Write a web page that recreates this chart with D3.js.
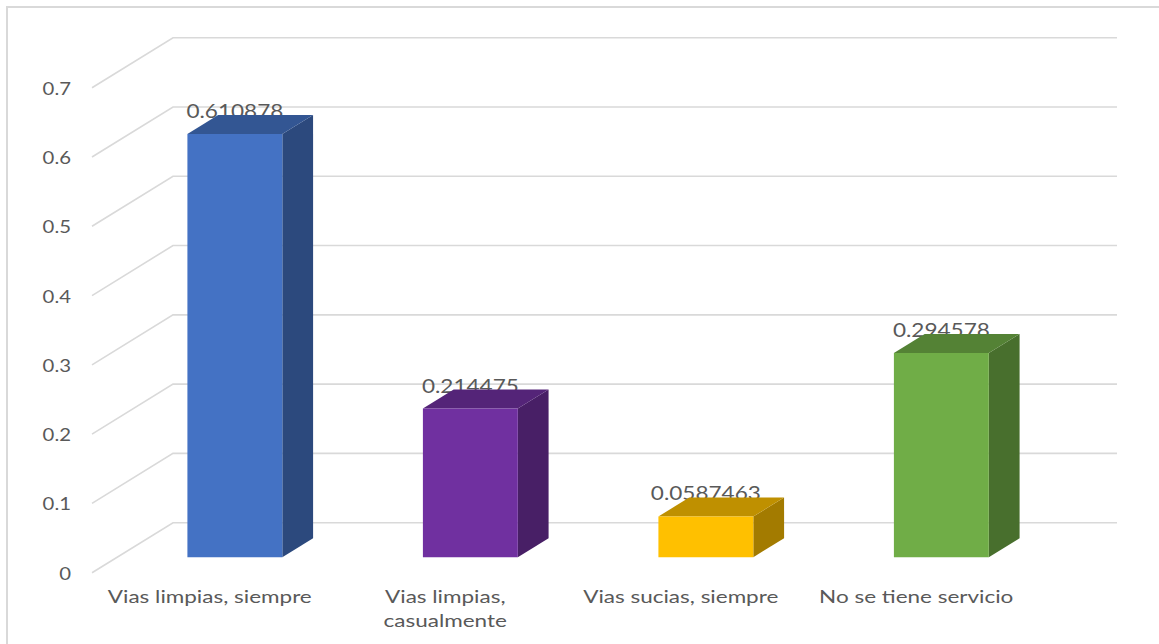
<!DOCTYPE html>
<html>
<head>
<meta charset="utf-8">
<script src="https://cdn.jsdelivr.net/npm/d3@7"></script>
<style>
  html, body { margin: 0; padding: 0; background: #ffffff; }
  svg { display: block; }
  text { font-family: Lato, "Open Sans", sans-serif; fill: #595959; }
</style>
</head>
<body>
<svg id="chart" width="1159" height="644"></svg>
<script>
// Categories and their values
const categories = [
  "Vias limpias, siempre",
  "Vias limpias, casualmente",
  "Vias sucias, siempre",
  "No se tiene servicio"
];
const values = [0.610878, 0.214475, 0.0587463, 0.294578];
const valueLabels = ["0.610878", "0.214475", "0.0587463", "0.294578"];
const tickValues = [0, 0.1, 0.2, 0.3, 0.4, 0.5, 0.6, 0.7];
const tickLabels = ["0", "0.1", "0.2", "0.3", "0.4", "0.5", "0.6", "0.7"];

// Fill colours of the front face of each column
const palette = ["#4472C4", "#7030A0", "#FFC000", "#70AD47"];

const svg = d3.select("#chart");
const W = 1159, H = 644;

// Pseudo-3D layout: front plane origin and depth vector
const origin = { x: 92, y: 572.7 };
const depth = { x: 81, y: -50 };
const plotWidth = 942;

const x = d3.scaleBand()
  .domain(categories)
  .range([0, plotWidth])
  .paddingInner(0.597)
  .paddingOuter(0.2985);

const y = d3.scaleLinear().domain([0, 0.7]).range([0, 485]);

// Project (horizontal position, value, depth fraction) to screen coordinates
function P(px, v, z) {
  return [origin.x + px + z * depth.x, origin.y - y(v) + z * depth.y];
}

const gridColor = "#D9D9D9";
const tickScale = 1.13;
const categoryScale = 1.25;
const valueScale = 1.22;

// Chart area border (left and top)
svg.append("path")
  .attr("d", `M7,${H} L7,7 L${W},7`)
  .attr("fill", "none")
  .attr("stroke", gridColor)
  .attr("stroke-width", 2);

// Side wall diagonals and back wall gridlines
const grid = svg.append("g");
tickValues.forEach(t => {
  const a = P(0, t, 0), b = P(0, t, 1), c = P(plotWidth + 2, t, 1);
  grid.append("path")
    .attr("d", `M${a[0]},${a[1]} L${b[0]},${b[1]} L${c[0]},${c[1]}`)
    .attr("fill", "none")
    .attr("stroke", gridColor)
    .attr("stroke-width", 1.6);
});

// Value axis labels
const yAxis = svg.append("g");
tickValues.forEach((t, i) => {
  const a = P(0, t, 0);
  yAxis.append("text")
    .attr("transform", `translate(${a[0] - 21},${a[1] + 7}) scale(${tickScale},1)`)
    .attr("text-anchor", "end")
    .attr("font-size", 18)
    .text(tickLabels[i]);
});

const z0 = 0.31, z1 = 0.69;

// Data labels are drawn first so the column tops sit over them
const labels = svg.append("g");
categories.forEach((c, i) => {
  const cx = x(c) + x.bandwidth() / 2;
  const back = P(cx, values[i], z1);
  const front = P(cx, values[i], z0);
  labels.append("text")
    .attr("transform", `translate(${front[0]},${back[1] + 3}) scale(${valueScale},1)`)
    .attr("text-anchor", "middle")
    .attr("font-size", 18.5)
    .text(valueLabels[i]);
});

// Columns: front, side and top faces
const bars = svg.append("g");
const poly = pts => "M" + pts.map(p => p.join(",")).join("L") + "Z";
categories.forEach((c, i) => {
  const xa = x(c), xb = x(c) + x.bandwidth(), v = values[i];
  const base = d3.rgb(palette[i]);
  const shade = k => d3.rgb(base.r * k, base.g * k, base.b * k).formatHex();
  bars.append("path")
    .attr("d", poly([P(xb, 0, z0), P(xb, 0, z1), P(xb, v, z1), P(xb, v, z0)]))
    .attr("fill", shade(0.64));
  bars.append("path")
    .attr("d", poly([P(xa, v, z0), P(xb, v, z0), P(xb, v, z1), P(xa, v, z1)]))
    .attr("fill", shade(0.75));
  bars.append("path")
    .attr("d", poly([P(xa, 0, z0), P(xb, 0, z0), P(xb, v, z0), P(xa, v, z0)]))
    .attr("fill", base.formatHex());
});

// Category labels, wrapped when wider than the available space
const xAxis = svg.append("g");
const maxLabelWidth = 225;
categories.forEach(c => {
  const cx = P(x(c) + x.bandwidth() / 2, 0, 0)[0];
  const g = xAxis.append("g").attr("transform", `translate(${cx},602.5) scale(${categoryScale},1)`);
  const words = c.split(" ");
  const lines = [];
  let line = [];
  const probe = g.append("text").attr("font-size", 18);
  words.forEach(w => {
    const trial = line.concat([w]).join(" ");
    probe.text(trial);
    if (line.length && probe.node().getComputedTextLength() * categoryScale > maxLabelWidth) {
      lines.push(line.join(" "));
      line = [w];
    } else {
      line.push(w);
    }
  });
  lines.push(line.join(" "));
  probe.remove();
  lines.forEach((l, k) => {
    g.append("text")
      .attr("x", 0)
      .attr("y", k * 24.5)
      .attr("text-anchor", "middle")
      .attr("font-size", 18)
      .text(l);
  });
});
</script>
</body>
</html>
